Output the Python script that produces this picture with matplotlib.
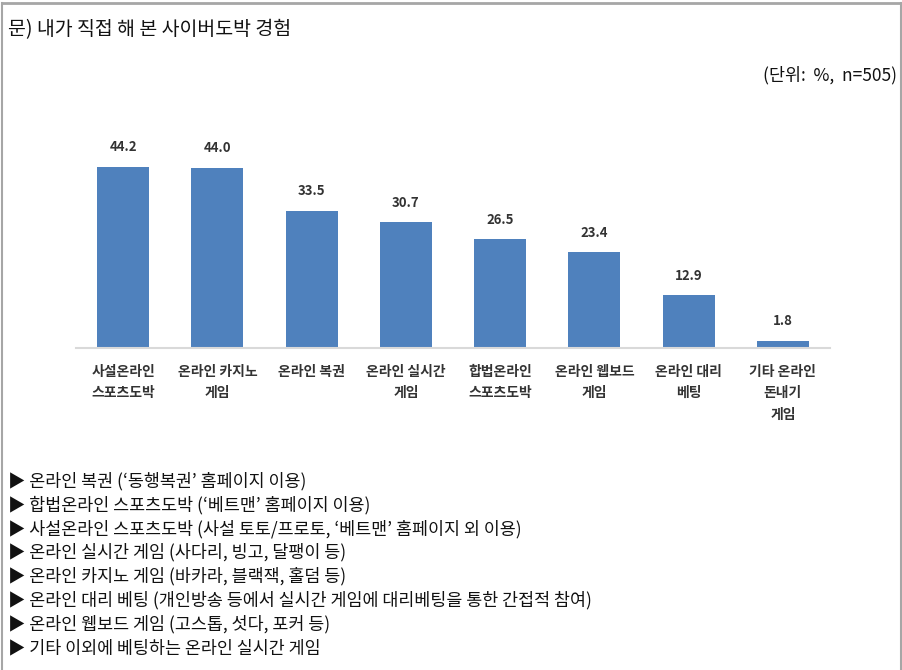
import matplotlib
matplotlib.use("Agg")
import matplotlib.pyplot as plt
from matplotlib.lines import Line2D

plt.rcParams['font.family'] = ['Noto Sans CJK KR', 'DejaVu Sans']

# 데이터
categories = ["사설온라인\n스포츠도박", "온라인 카지노\n게임", "온라인 복권", "온라인 실시간\n게임",
              "합법온라인\n스포츠도박", "온라인 웹보드\n게임", "온라인 대리\n베팅", "기타 온라인\n돈내기\n게임"]
values = [44.2, 44.0, 33.5, 30.7, 26.5, 23.4, 12.9, 1.8]

title = "문) 내가 직접 해 본 사이버도박 경험"
unit_text = "(단위:  %,  n=505)"
notes = [
    "▶ 온라인 복권 (‘동행복권’ 홈페이지 이용)",
    "▶ 합법온라인 스포츠도박 (‘베트맨’ 홈페이지 이용)",
    "▶ 사설온라인 스포츠도박 (사설 토토/프로토, ‘베트맨’ 홈페이지 외 이용)",
    "▶ 온라인 실시간 게임 (사다리, 빙고, 달팽이 등)",
    "▶ 온라인 카지노 게임 (바카라, 블랙잭, 홀덤 등)",
    "▶ 온라인 대리 베팅 (개인방송 등에서 실시간 게임에 대리베팅을 통한 간접적 참여)",
    "▶ 온라인 웹보드 게임 (고스톱, 섯다, 포커 등)",
    "▶ 기타 이외에 베팅하는 온라인 실시간 게임",
]

W, H = 903, 670
fig = plt.figure(figsize=(W / 100, H / 100), dpi=100)

# 바깥 테두리 (위, 왼쪽, 오른쪽)
border = "#a6a6a6"
fig.add_artist(Line2D([0.002, 0.998], [0.996, 0.996], transform=fig.transFigure, color=border, lw=2))
fig.add_artist(Line2D([0.002, 0.002], [0, 0.996], transform=fig.transFigure, color=border, lw=1.5))
fig.add_artist(Line2D([0.998, 0.998], [0, 0.996], transform=fig.transFigure, color=border, lw=1.5))

# 막대 그래프 영역
ax = fig.add_axes([76 / W, 1 - 348 / H, (830 - 76) / W, 205 / H])
x = range(len(values))
ax.bar(x, values, width=0.55, color="#4f81bd", zorder=2)
ax.set_xlim(-0.5, len(values) - 0.5)
ax.set_ylim(0, 50)
for i, v in enumerate(values):
    ax.text(i, v + 3.0, f"{v:.1f}", ha="center", va="bottom", fontsize=9.5,
            fontweight="bold", color="#333333")
ax.set_yticks([])
ax.set_xticks(list(x))
ax.set_xticklabels(categories, fontsize=10, fontweight="bold", color="#333333", linespacing=1.7)
ax.tick_params(axis="x", length=0, pad=12)
for s in ["top", "right", "left"]:
    ax.spines[s].set_visible(False)
ax.spines["bottom"].set_color("#d9d9d9")
ax.spines["bottom"].set_linewidth(1.5)

# 제목 및 단위
fig.text(8 / W, 1 - 30 / H, title, ha="left", va="center", fontsize=14, color="#111111")
fig.text(897 / W, 1 - 75 / H, unit_text, ha="right", va="center", fontsize=12.5, color="#111111")

# 설명 목록
for k, line in enumerate(notes):
    fig.text(8 / W, 1 - (481 + k * 23.9) / H, line, ha="left", va="center",
             fontsize=12.5, color="#111111")

fig.savefig("out.png", dpi=100)
